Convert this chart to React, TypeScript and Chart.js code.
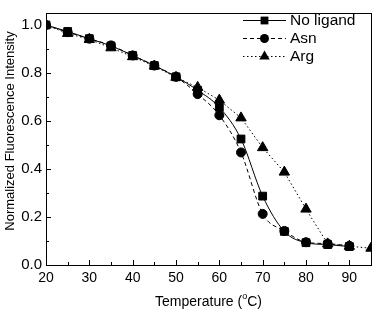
import React, { useEffect, useRef } from "react";
import { Chart, registerables } from "chart.js";

Chart.register(...registerables);

const temperatures = [20, 25, 30, 35, 40, 45, 50, 55, 60, 65, 70, 75, 80, 85, 90];
const tempsArg = [20, 25, 30, 35, 40, 45, 50, 55, 60, 65, 70, 75, 80, 85, 90, 95];
const noLigand = [1.0, 0.973, 0.943, 0.913, 0.873, 0.831, 0.784, 0.728, 0.657, 0.525, 0.287, 0.14, 0.093, 0.085, 0.077];
const asn = [1.0, 0.97, 0.943, 0.915, 0.873, 0.831, 0.784, 0.712, 0.624, 0.469, 0.213, 0.142, 0.095, 0.089, 0.08];
const arg = [1.0, 0.965, 0.94, 0.905, 0.868, 0.829, 0.782, 0.74, 0.687, 0.613, 0.489, 0.387, 0.233, 0.088, 0.078, 0.07];
const xTicks = [20, 30, 40, 50, 60, 70, 80, 90];
const xMinorTicks = [25, 35, 45, 55, 65, 75, 85, 95];
const yTicks = [0, 0.2, 0.4, 0.6, 0.8, 1.0];
const yMinorTicks = [0.1, 0.3, 0.5, 0.7, 0.9];
const seriesNames = ["No ligand", "Asn", "Arg"];

const FONT = "Arial, 'Liberation Sans', sans-serif";

function drawMarker(ctx: CanvasRenderingContext2D, style: string, x: number, y: number) {
  ctx.beginPath();
  if (style === "rect") {
    ctx.rect(x - 3.9, y - 3.9, 7.8, 7.8);
  } else if (style === "circle") {
    ctx.arc(x, y, 4.5, 0, Math.PI * 2);
  } else {
    const r = 6;
    ctx.moveTo(x, y - r);
    ctx.lineTo(x + r * Math.sin(Math.PI / 3), y + r * 0.5);
    ctx.lineTo(x - r * Math.sin(Math.PI / 3), y + r * 0.5);
    ctx.closePath();
  }
  ctx.fill();
}

const framePlugin = {
  id: "frame",
  afterDraw(chart: any) {
    const { ctx, chartArea } = chart;
    const { left, right, top, bottom } = chartArea;
    const xs = chart.scales.x;
    const ys = chart.scales.y;
    ctx.save();
    ctx.strokeStyle = "#000";
    ctx.lineWidth = 1;
    ctx.strokeRect(Math.round(left) + 0.5, Math.round(top) + 0.5, Math.round(right - left), Math.round(bottom - top));
    ctx.beginPath();
    for (const v of xTicks) {
      const px = Math.round(xs.getPixelForValue(v)) + 0.5;
      ctx.moveTo(px, bottom);
      ctx.lineTo(px, bottom - 5);
    }
    for (const v of xMinorTicks) {
      const px = Math.round(xs.getPixelForValue(v)) + 0.5;
      ctx.moveTo(px, bottom);
      ctx.lineTo(px, bottom - 3);
    }
    for (const v of yTicks) {
      const py = Math.round(ys.getPixelForValue(v)) + 0.5;
      ctx.moveTo(left, py);
      ctx.lineTo(left + 5, py);
    }
    for (const v of yMinorTicks) {
      const py = Math.round(ys.getPixelForValue(v)) + 0.5;
      ctx.moveTo(left, py);
      ctx.lineTo(left + 3, py);
    }
    ctx.stroke();

    // x title with superscript
    ctx.fillStyle = "#000";
    ctx.textBaseline = "middle";
    ctx.font = `14px ${FONT}`;
    const t1 = "Temperature (";
    const t2 = "o";
    const t3 = "C)";
    const w1 = ctx.measureText(t1).width;
    const w3 = ctx.measureText(t3).width;
    ctx.font = `9px ${FONT}`;
    const w2 = ctx.measureText(t2).width;
    const total = w1 + w2 + w3;
    const cx = (left + right) / 2;
    const x0 = cx - total / 2;
    const ty = 302;
    ctx.font = `14px ${FONT}`;
    ctx.textAlign = "left";
    ctx.fillText(t1, x0, ty);
    ctx.font = `9px ${FONT}`;
    ctx.fillText(t2, x0 + w1, ty - 5);
    ctx.font = `14px ${FONT}`;
    ctx.fillText(t3, x0 + w1 + w2, ty);

    // y title
    ctx.save();
    ctx.translate(10, (top + bottom) / 2 - 8);
    ctx.rotate(-Math.PI / 2);
    ctx.textAlign = "center";
    ctx.font = `13px ${FONT}`;
    ctx.fillText("Normalized Fluorescence Intensity", 0, 0);
    ctx.restore();

    // legend
    const styles = ["rect", "circle", "triangle"];
    const dashes = [[], [4, 3], [1.5, 2.5]];
    const rowsY = [20.5, 38.5, 56.5];
    for (let i = 0; i < 3; i++) {
      const y = rowsY[i];
      ctx.beginPath();
      ctx.setLineDash(dashes[i]);
      ctx.strokeStyle = "#000";
      ctx.moveTo(243, y);
      ctx.lineTo(286, y);
      ctx.stroke();
      ctx.setLineDash([]);
      ctx.fillStyle = "#000";
      drawMarker(ctx, styles[i], 264.5, y);
      ctx.font = `15.5px ${FONT}`;
      ctx.textAlign = "left";
      ctx.textBaseline = "middle";
      ctx.fillText(seriesNames[i], 290, y + 0.5);
    }
    ctx.restore();
  },
};

export default function App() {
  const ref = useRef<HTMLCanvasElement>(null);
  useEffect(() => {
    document.body.style.margin = "0";
    const toXY = (xs: number[], ys: number[]) => xs.map((x, i) => ({ x, y: ys[i] }));
    const chart = new Chart(ref.current!, {
      type: "line",
      data: {
        datasets: [
          {
            label: seriesNames[0],
            data: toXY(temperatures, noLigand),
            borderColor: "#000",
            backgroundColor: "#000",
            borderWidth: 1,
            pointStyle: "rect",
            pointRadius: 5.5,
            cubicInterpolationMode: "monotone",
          },
          {
            label: seriesNames[1],
            data: toXY(temperatures, asn),
            borderColor: "#000",
            backgroundColor: "#000",
            borderWidth: 1,
            borderDash: [4, 3],
            pointStyle: "circle",
            pointRadius: 4.5,
            cubicInterpolationMode: "monotone",
          },
          {
            label: seriesNames[2],
            data: toXY(tempsArg, arg),
            borderColor: "#000",
            backgroundColor: "#000",
            borderWidth: 1,
            borderDash: [1.5, 2.5],
            pointStyle: "triangle",
            pointRadius: 6,
            tension: 0,
          },
        ],
      },
      options: {
        animation: false,
        responsive: false,
        layout: { padding: { top: 2, right: 2, left: 0, bottom: 0 } },
        plugins: { legend: { display: false }, tooltip: { enabled: false } },
        scales: {
          x: {
            type: "linear",
            min: 20,
            max: 95,
            afterBuildTicks: (s: any) => {
              s.ticks = xTicks.map((v) => ({ value: v }));
            },
            afterFit: (s: any) => {
              s.height = 47;
            },
            grid: { display: false, drawTicks: false },
            border: { display: false },
            ticks: { color: "#000", font: { size: 14, family: FONT }, padding: 5, maxRotation: 0 },
          },
          y: {
            type: "linear",
            min: 0,
            max: 1.05,
            afterBuildTicks: (s: any) => {
              s.ticks = yTicks.map((v) => ({ value: v }));
            },
            afterFit: (s: any) => {
              s.width = 46;
            },
            grid: { display: false, drawTicks: false },
            border: { display: false },
            ticks: {
              color: "#000",
              font: { size: 15, family: FONT },
              padding: 4,
              callback: (v: any) => Number(v).toFixed(1),
            },
          },
        },
      },
      plugins: [framePlugin],
    } as any);
    return () => chart.destroy();
  }, []);
  return (
    <div style={{ width: 378, height: 312 }}>
      <canvas ref={ref} width={378} height={312} style={{ display: "block" }} />
    </div>
  );
}
